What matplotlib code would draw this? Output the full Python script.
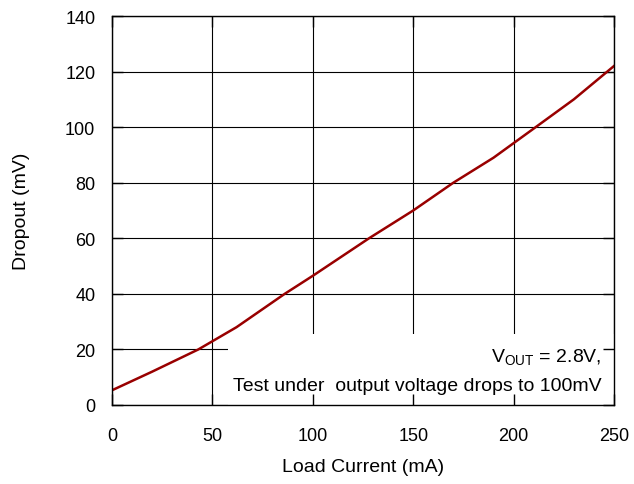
import numpy as np
import matplotlib.pyplot as plt
from matplotlib.patches import Rectangle

plt.rcParams['font.family'] = ['Liberation Sans', 'DejaVu Sans']
plt.rcParams['mathtext.fontset'] = 'custom'
plt.rcParams['mathtext.rm'] = 'Liberation Sans'

# load current (mA) vs dropout (mV)
current = [0, 20, 43, 62, 86, 100, 128, 150, 170, 190, 211, 230, 250]
dropout = [5.3, 12, 20, 28, 40, 46.5, 60, 70, 80, 89, 100, 110, 122]

xticks = [0, 50, 100, 150, 200, 250]
yticks = [0, 20, 40, 60, 80, 100, 120, 140]

fig = plt.figure(figsize=(6.34, 4.85), dpi=100)
ax = fig.add_axes([112/634, 79/485, 502/634, 389/485])

ax.set_xlim(0, 250)
ax.set_ylim(0, 140)
ax.set_xticks(xticks)
ax.set_yticks(yticks)

# grid drawn by hand so the ticks can sit on top of the note box
ax.hlines(yticks, 0, 250, color='black', linewidth=0.8, zorder=0.3)
ax.vlines(xticks, 0, 140, color='black', linewidth=0.8, zorder=0.3)

# white box behind the note hides part of the grid
ax.add_patch(Rectangle((57.8, 0), 192.2, 25.5, facecolor='white',
                       edgecolor='none', zorder=0.4))
ax.set_axisbelow(True)

ax.plot(current, dropout, color='#990000', linewidth=1.8, zorder=2)

for s in ax.spines.values():
    s.set_color('black')
    s.set_linewidth(1.0)

ax.tick_params(which='both', direction='in', length=8, width=1.0,
               top=True, right=True, labelsize=13)
ax.tick_params(axis='y', pad=12)
ax.tick_params(axis='x', pad=16)

ax.set_xlabel('Load Current (mA)', fontsize=14, labelpad=10)
ax.set_ylabel('Dropout (mV)', fontsize=14, labelpad=25)

ax.text(243.8, 17.3, r'V$_{\mathrm{OUT}}$ = 2.8V,', ha='right',
        va='center', fontsize=14, zorder=3)
ax.text(243.8, 6.9, 'Test under  output voltage drops to 100mV', ha='right',
        va='center', fontsize=14, zorder=3)

fig.savefig('out.png', dpi=100)
